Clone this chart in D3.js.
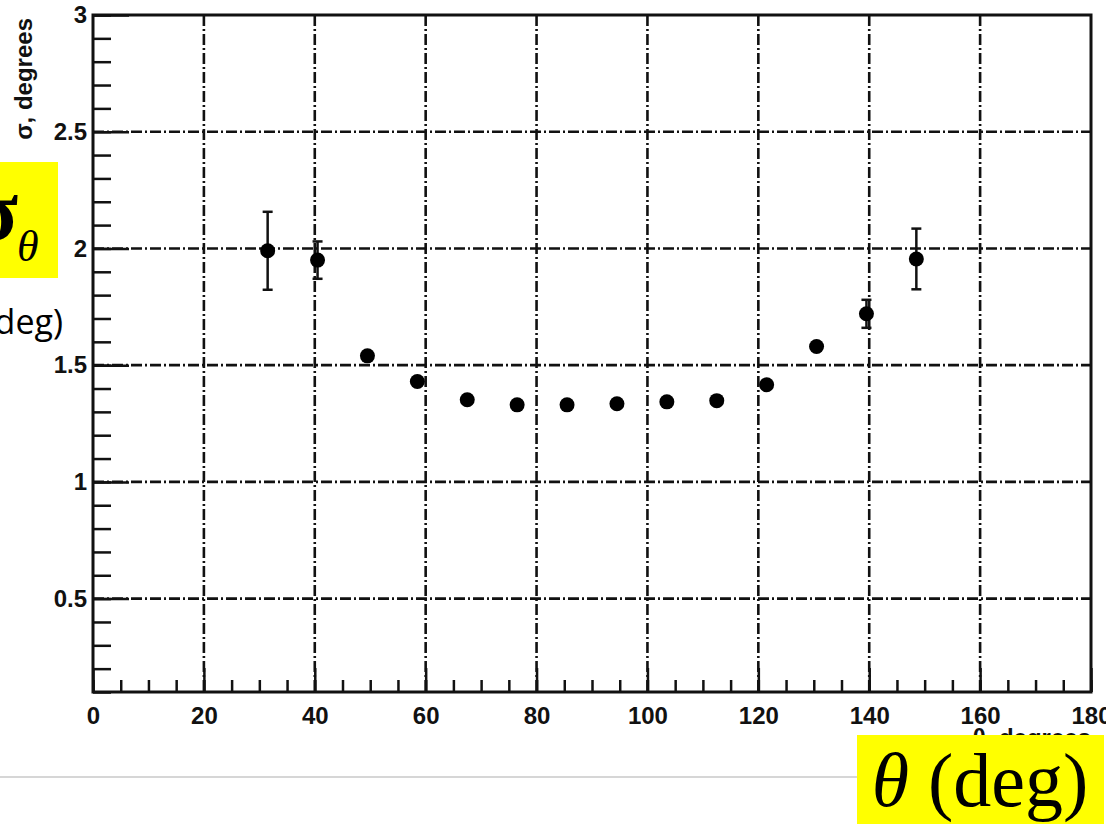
<!DOCTYPE html>
<html>
<head>
<meta charset="utf-8">
<script src="https://cdn.jsdelivr.net/npm/d3@7"></script>
<style>
  body { margin: 0; background: #fff; }
  svg { display: block; }
</style>
</head>
<body>
<div id="chart"></div>
<script>
// data
const thetaDeg = [31.5, 40.5, 49.5, 58.5, 67.5, 76.5, 85.5, 94.5, 103.5, 112.5, 121.5, 130.5, 139.5, 148.5];
const sigma    = [1.99, 1.95, 1.54, 1.43, 1.352, 1.33, 1.33, 1.335, 1.343, 1.348, 1.416, 1.58, 1.72, 1.955];
const sigmaErr = [0.167, 0.08, 0.02, 0.015, 0.01, 0.01, 0.01, 0.01, 0.01, 0.01, 0.015, 0.025, 0.06, 0.13];
const xMajor = [0, 20, 40, 60, 80, 100, 120, 140, 160, 180];
const yMajor = [0.5, 1, 1.5, 2, 2.5, 3];
const xMinor = d3.range(0, 181, 5);
const yMinor = d3.range(1, 31).map(d => d / 10);

const W = 1106, H = 824;
const plot = {left: 93, right: 1091, top: 15, bottom: 692};

const svg = d3.select('#chart').append('svg')
  .attr('width', W)
  .attr('height', H);

const x = d3.scaleLinear().domain([0, 180]).range([plot.left, plot.right]);
const y = d3.scaleLinear().domain([0.1, 3]).range([plot.bottom, plot.top]);

const points = thetaDeg.map((t, i) => ({t: t, s: sigma[i], e: sigmaErr[i]}));

// grid, dash-dot like ROOT
const grid = svg.append('g').attr('class', 'grid')
  .attr('stroke', '#111')
  .attr('stroke-width', 2.6)
  .attr('stroke-dasharray', '11,3,2,3');

grid.selectAll('line.gx')
  .data(xMajor.filter(d => d > 0 && d < 180))
  .enter().append('line')
  .attr('class', 'gx')
  .attr('x1', d => x(d)).attr('x2', d => x(d))
  .attr('y1', plot.top).attr('y2', plot.bottom);

grid.selectAll('line.gy')
  .data(yMajor.filter(d => d < 3))
  .enter().append('line')
  .attr('class', 'gy')
  .attr('y1', d => y(d)).attr('y2', d => y(d))
  .attr('x1', plot.left).attr('x2', plot.right);

// ticks point inward
const tickFont = '"Liberation Sans", Arial, sans-serif';

function styleAxis(g) {
  g.select('.domain').remove();
  g.selectAll('.tick line').attr('stroke', '#111').attr('stroke-width', 2.5);
  g.selectAll('.tick text')
    .style('font-family', tickFont)
    .style('font-size', '24px')
    .style('font-weight', 'bold')
    .attr('fill', '#111');
}

svg.append('g')
  .attr('transform', `translate(0,${plot.bottom})`)
  .call(d3.axisBottom(x).tickValues(xMinor).tickFormat('').tickSize(-12))
  .call(styleAxis);

svg.append('g')
  .attr('transform', `translate(0,${plot.bottom})`)
  .call(d3.axisBottom(x).tickValues(xMajor).tickFormat(d3.format('d')).tickSize(-24).tickPadding(15))
  .call(styleAxis);

svg.append('g')
  .attr('transform', `translate(${plot.left},0)`)
  .call(d3.axisLeft(y).tickValues(yMinor).tickFormat('').tickSize(-18))
  .call(styleAxis);

svg.append('g')
  .attr('transform', `translate(${plot.left},0)`)
  .call(d3.axisLeft(y).tickValues(yMajor).tickFormat(d => d3.format('')(d)).tickSize(-36).tickPadding(6))
  .call(styleAxis);

// frame
svg.append('rect')
  .attr('x', plot.left).attr('y', plot.top)
  .attr('width', plot.right - plot.left)
  .attr('height', plot.bottom - plot.top)
  .attr('fill', 'none')
  .attr('stroke', '#111')
  .attr('stroke-width', 3);

// error bars
const eb = svg.append('g').attr('class', 'errors')
  .attr('stroke', '#111').attr('stroke-width', 2.5);

eb.selectAll('line.bar')
  .data(points)
  .enter().append('line')
  .attr('class', 'bar')
  .attr('x1', d => x(d.t)).attr('x2', d => x(d.t))
  .attr('y1', d => y(d.s - d.e)).attr('y2', d => y(d.s + d.e));

eb.selectAll('line.capTop')
  .data(points.filter(d => d.e > 0.03))
  .enter().append('line')
  .attr('class', 'capTop')
  .attr('x1', d => x(d.t) - 5).attr('x2', d => x(d.t) + 5)
  .attr('y1', d => y(d.s + d.e)).attr('y2', d => y(d.s + d.e));

eb.selectAll('line.capBot')
  .data(points.filter(d => d.e > 0.03))
  .enter().append('line')
  .attr('class', 'capBot')
  .attr('x1', d => x(d.t) - 5).attr('x2', d => x(d.t) + 5)
  .attr('y1', d => y(d.s - d.e)).attr('y2', d => y(d.s - d.e));

svg.append('g').attr('class', 'points')
  .selectAll('circle')
  .data(points)
  .enter().append('circle')
  .attr('cx', d => x(d.t))
  .attr('cy', d => y(d.s))
  .attr('r', 7.5)
  .attr('fill', '#000');

// ROOT axis titles
svg.append('text')
  .attr('transform', 'translate(32,18) rotate(-90)')
  .attr('text-anchor', 'end')
  .style('font-family', tickFont)
  .style('font-size', '24px')
  .style('font-weight', 'bold')
  .attr('fill', '#111')
  .text('σ, degrees');

svg.append('text')
  .attr('x', plot.right).attr('y', 746)
  .attr('text-anchor', 'end')
  .style('font-family', tickFont)
  .style('font-size', '24px')
  .style('font-weight', 'bold')
  .attr('fill', '#111')
  .text('θ, degrees');

// slide separator line
svg.append('line')
  .attr('x1', 0).attr('x2', 860)
  .attr('y1', 777).attr('y2', 777)
  .attr('stroke', '#c8c8c8')
  .attr('stroke-width', 1.5);

// yellow labels from the slide
svg.append('rect')
  .attr('x', 857).attr('y', 735)
  .attr('width', 247).attr('height', 89)
  .attr('fill', '#ffff00');

const xl = svg.append('text')
  .attr('x', 980).attr('y', 806)
  .attr('text-anchor', 'middle')
  .style('font-family', '"Liberation Serif", "Times New Roman", serif')
  .style('font-size', '76px')
  .attr('fill', '#000');
xl.append('tspan').style('font-style', 'italic').text('θ');
xl.append('tspan').text(' (deg)');

svg.append('rect')
  .attr('x', 0).attr('y', 162)
  .attr('width', 58).attr('height', 116)
  .attr('fill', '#ffff00');

svg.append('text')
  .attr('x', 18).attr('y', 240)
  .attr('text-anchor', 'end')
  .style('font-family', '"Liberation Serif", "Times New Roman", serif')
  .style('font-size', '86px')
  .style('font-weight', 'bold')
  .attr('fill', '#000')
  .text('σ');

svg.append('text')
  .attr('x', 17).attr('y', 261)
  .style('font-family', '"Liberation Serif", "Times New Roman", serif')
  .style('font-size', '44px')
  .style('font-style', 'italic')
  .attr('fill', '#000')
  .text('θ');

svg.append('text')
  .attr('x', 63).attr('y', 334)
  .attr('text-anchor', 'end')
  .style('font-family', '"Open Sans", sans-serif')
  .style('font-size', '34px')
  .attr('fill', '#000')
  .text('(deg)');
</script>
</body>
</html>
